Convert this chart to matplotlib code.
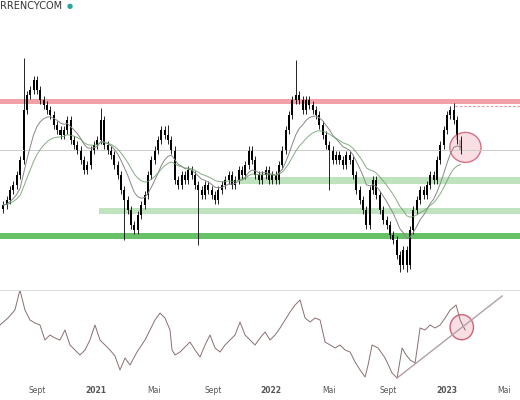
import matplotlib.pyplot as plt
import numpy as np
from matplotlib.patches import Ellipse
from datetime import date

# closes (pixel rows, converted to price below)
y_close = [205, 200, 190, 185, 175, 160, 110, 95, 90, 80,
           90, 100, 105, 110, 115, 125, 130, 135, 130, 120,
           140, 145, 150, 160, 170, 165, 150, 145, 140, 120,
           145, 150, 155, 165, 175, 190, 200, 210, 225, 230,
           215, 205, 195, 175, 160, 150, 140, 130, 135, 140,
           150, 180, 185, 175, 180, 170, 175, 185, 190, 195,
           185, 190, 195, 200, 190, 185, 180, 175, 185, 180,
           170, 175, 165, 150, 160, 175, 180, 175, 170, 180,
           175, 180, 165, 150, 130, 115, 100, 95, 100, 110,
           100, 105, 110, 115, 125, 135, 145, 150, 160, 155,
           160, 165, 155, 160, 175, 190, 200, 210, 225, 190,
           180, 195, 210, 220, 225, 235, 240, 255, 265, 250,
           265, 230, 210, 200, 190, 195, 185, 175, 180, 160,
           145, 130, 115, 110, 120, 140, 150]
# notable wicks: index -> pixel row of the extreme
wick_high = {6: 58, 87: 60, 134: 103, 29: 108, 49: 125}
wick_low = {58: 245, 97: 190, 118: 272, 120: 272, 36: 240}

# RSI line (pixel column, pixel row)
rsi_x = [0, 8, 15, 20, 25, 30, 35, 40, 45, 50, 55, 60, 65, 70, 75, 80, 85, 90, 95,
         100, 105, 110, 115, 120, 125, 130, 137, 145, 150, 155, 160, 165, 170, 172,
         175, 180, 185, 190, 195, 200, 205, 210, 215, 220, 225, 230, 235, 240, 245,
         250, 255, 260, 265, 270, 275, 280, 285, 290, 295, 300, 305, 310, 315, 320,
         325, 330, 335, 340, 345, 350, 355, 360, 365, 368, 372, 378, 385, 392, 397,
         402, 406, 410, 415, 420, 425, 430, 435, 440, 445, 450, 456, 460, 465]
rsi_y = [325, 318, 310, 290, 310, 320, 323, 325, 340, 335, 338, 340, 330, 345,
         350, 355, 350, 340, 325, 340, 345, 350, 356, 370, 358, 365, 352, 340,
         330, 320, 313, 318, 330, 350, 355, 352, 347, 342, 350, 357, 345, 335,
         348, 352, 345, 340, 335, 322, 335, 340, 345, 338, 332, 340, 335, 328,
         320, 312, 305, 300, 318, 322, 318, 320, 342, 345, 348, 345, 350, 352,
         362, 370, 377, 365, 345, 348, 358, 373, 378, 348, 355, 360, 363, 328,
         330, 325, 328, 325, 318, 310, 305, 320, 330]

close = 300 - np.array(y_close, dtype=float)
openp = np.r_[close[0] - 4, close[:-1]]
high = np.maximum(openp, close) + 4
low = np.minimum(openp, close) - 4
for i, v in wick_high.items():
    high[i] = 300 - v
for i, v in wick_low.items():
    low[i] = 300 - v
weeks = np.arange(len(close)) - 3

def px2week(px):
    return (np.asarray(px, dtype=float) - 13.5) / 3.36

def ema(x, n):
    out = np.empty_like(x)
    out[0] = x[0]
    a = 2 / (n + 1)
    for i in range(1, len(x)):
        out[i] = a * x[i] + (1 - a) * out[i - 1]
    return out

start = date(2020, 7, 13)
tick_dates = [date(2020, 9, 1), date(2021, 1, 1), date(2021, 5, 1), date(2021, 9, 1),
              date(2022, 1, 1), date(2022, 5, 1), date(2022, 9, 1), date(2023, 1, 1),
              date(2023, 5, 1)]
tick_labels = ['Sept', '2021', 'Mai', 'Sept', '2022', 'Mai', 'Sept', '2023', 'Mai']
tick_pos = [(d - start).days / 7 for d in tick_dates]

fig = plt.figure(figsize=(5.2, 4), dpi=100)
ax = fig.add_axes([0, 0.28, 1, 0.6825])
ax2 = fig.add_axes([0, 0.0425, 1, 0.2325])
xl = (-4.0, 150.7)

# zones
ax.axhspan(300 - 104, 300 - 99, color='#f08a94', alpha=0.8, lw=0)
ax.axhline(300 - 150, color='#cccccc', lw=0.7)
ax.axhspan(300 - 239, 300 - 233, color='#4cb84c', alpha=0.85, lw=0)
ax.axhspan(300 - 214, 300 - 208, xmin=0.19, color='#bfe3bf', lw=0)
ax.axhspan(300 - 184, 300 - 177, xmin=0.46, color='#bfe3bf', lw=0)
ax.axhline(300 - 106, xmin=0.875, color='#f08a94', lw=0.8, ls=(0, (2, 2)))

# candles
for w, o, c, h, l in zip(weeks, openp, close, high, low):
    ax.vlines(w, l, h, color='black', lw=0.6)
    ax.bar(w, max(abs(c - o), 0.8), 0.6, bottom=min(o, c), color='black')
ax.plot(weeks, ema(close, 10), color='#888888', lw=0.7)
ax.plot(weeks, ema(close, 20), color='#669966', lw=0.7, alpha=0.8)
ax.add_patch(Ellipse((0.895, 0.515), 0.06, 0.11, transform=ax.transAxes,
                     fc='#f8d8dc', ec='#d0506a', lw=1, alpha=0.8))
ax.set_xlim(*xl)
ax.set_ylim(12, 285)
ax.axis('off')
fig.text(0.0, 0.985, 'RRENCYCOM', fontsize=7, va='center', color='#333333')
fig.text(0.128, 0.985, '●', fontsize=5, va='center', color='#26a69a')

# RSI panel
ax2.plot(px2week(rsi_x), 400 - np.array(rsi_y), color='#8a6f6f', lw=0.7)
ax2.plot(px2week([397, 502]), [400 - 378, 400 - 296], color='#b0a0a8', lw=1)
ax2.add_patch(Ellipse((0.888, 0.60), 0.045, 0.27, transform=ax2.transAxes,
                      fc='#f8d8dc', ec='#c0405a', lw=1, alpha=0.8))
ax2.set_xlim(*xl)
ax2.set_ylim(17, 110)
for s in ax2.spines.values():
    s.set_visible(False)
ax2.axhline(110, color='#dddddd', lw=1.5)
ax2.set_yticks([])
ax2.set_xticks(tick_pos)
ax2.set_xticklabels(tick_labels, fontsize=5.5, color='#555555')
for t in ax2.get_xticklabels():
    if t.get_text().isdigit():
        t.set_fontweight('bold')
ax2.tick_params(axis='x', length=0, pad=2)
fig.savefig('out.png')
